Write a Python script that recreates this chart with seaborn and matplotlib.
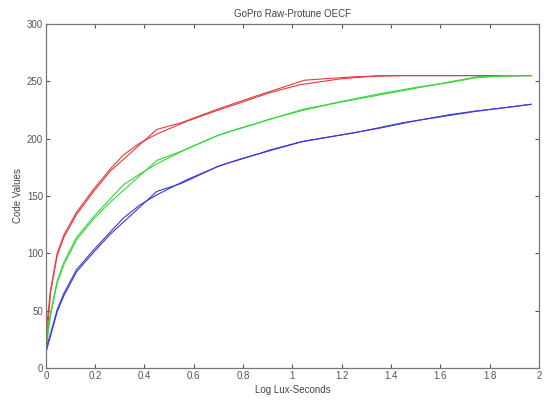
import numpy as np
import pandas as pd
import matplotlib
matplotlib.use('Agg')
import matplotlib.pyplot as plt
import seaborn as sns

# Fitted (smooth) curves
x_fit = [0, 0.005, 0.019, 0.046, 0.073, 0.125, 0.194, 0.263, 0.316, 0.38,
         0.45, 0.57, 0.70, 0.785, 0.866, 0.907, 1.03, 1.19, 1.35, 1.51,
         1.64, 1.74, 1.86, 1.97]
red_fit = [15, 40, 68, 100, 116, 136, 156, 174, 186, 196, 204, 215, 225, 231,
           237, 240, 247, 252, 255, 255, 255, 255, 255, 255]
green_fit = [15, 30, 48, 76, 92, 114, 132, 148, 160, 169, 178, 191, 203, 209,
             214, 217, 224, 232, 239, 245, 249, 253, 255, 255]
blue_fit = [13, 20, 30, 51, 65, 86, 103, 119, 131, 142, 151, 164, 176, 182,
            187, 190, 197, 203, 209, 216, 221, 224, 227, 230]

# Measured points (piecewise)
x_meas = [0, 0.019, 0.046, 0.073, 0.125, 0.194, 0.263, 0.45, 0.55, 0.70,
          0.85, 1.05, 1.25, 1.45, 1.75, 1.97]
red_meas = [15, 66, 98, 114, 134, 154, 172, 208, 214, 226, 237, 251, 254, 255, 255, 255]
green_meas = [15, 46, 74, 90, 112, 130, 145, 181, 189, 203, 213, 226, 234, 242, 254, 255]
blue_meas = [13, 28, 49, 63, 84, 101, 117, 154, 161, 176, 186, 198, 205, 214, 224, 230]

colors = {'R': '#e8393a', 'G': '#35d635', 'B': '#3a3ad6'}

sns.set_style('ticks')
plt.rcParams['font.family'] = ['Liberation Sans', 'DejaVu Sans']

fig, ax = plt.subplots(figsize=(5.46, 4.0), dpi=100)
fig.subplots_adjust(left=0.084, right=0.987, top=0.94, bottom=0.08)

for ch, fit, meas in [('R', red_fit, red_meas), ('G', green_fit, green_meas),
                      ('B', blue_fit, blue_meas)]:
    sns.lineplot(x=x_fit, y=fit, color=colors[ch], lw=0.8, ax=ax)
    sns.lineplot(x=x_meas, y=meas, color=colors[ch], lw=0.8, ax=ax)

ax.set_xlim(0, 2)
ax.set_ylim(0, 300)
ax.set_xticks(np.arange(0, 2.01, 0.2))
ax.set_xticklabels(['0', '0.2', '0.4', '0.6', '0.8', '1', '1.2', '1.4', '1.6', '1.8', '2'])
ax.set_yticks(range(0, 301, 50))
ax.tick_params(direction='in', top=True, right=True, length=3, width=0.8,
               labelsize=7, colors='#555555', pad=2)
for s in ax.spines.values():
    s.set_visible(True)
    s.set_color('#777777')
    s.set_linewidth(0.9)

ax.set_title('GoPro Raw-Protune OECF', fontsize=7, color='#444444', pad=5)
ax.set_xlabel('Log Lux-Seconds', fontsize=7, color='#444444', labelpad=3)
ax.set_ylabel('Code Values', fontsize=7, color='#444444', labelpad=3)

fig.savefig('out.png', dpi=100)
